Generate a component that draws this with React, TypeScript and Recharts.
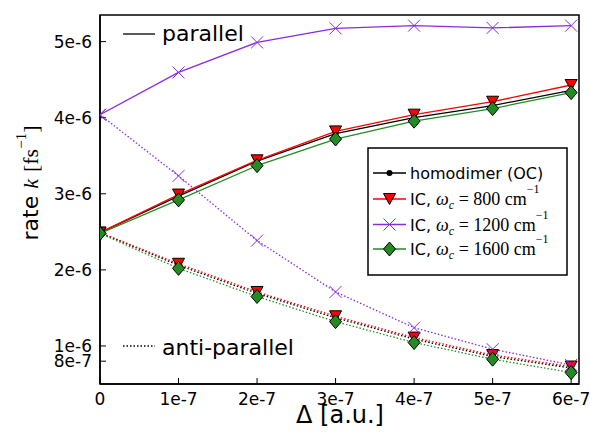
import { LineChart, Line, XAxis, YAxis, ReferenceArea, Legend } from 'recharts';

const X_VALUES = [0, 1e-7, 2e-7, 3e-7, 4e-7, 5e-7, 6e-7];
const X_TICK_LABELS = ['0', '1e-7', '2e-7', '3e-7', '4e-7', '5e-7', '6e-7'];
const Y_TICKS = [8e-7, 1e-6, 2e-6, 3e-6, 4e-6, 5e-6];
const Y_TICK_LABELS = ['8e-7', '1e-6', '2e-6', '3e-6', '4e-6', '5e-6'];
const X_DOMAIN = [0, 6.1e-7];
const Y_DOMAIN = [0.5e-6, 5.35e-6];

// parallel orientation (solid)
const HOMO_PAR = [2.49e-6, 2.97e-6, 3.43e-6, 3.79e-6, 4.0e-6, 4.16e-6, 4.36e-6];
const IC800_PAR = [2.49e-6, 2.99e-6, 3.44e-6, 3.82e-6, 4.04e-6, 4.21e-6, 4.43e-6];
const IC1200_PAR = [4.04e-6, 4.595e-6, 4.99e-6, 5.175e-6, 5.21e-6, 5.18e-6, 5.21e-6];
const IC1600_PAR = [2.48e-6, 2.92e-6, 3.37e-6, 3.72e-6, 3.955e-6, 4.12e-6, 4.33e-6];

// anti-parallel orientation (dotted)
const HOMO_ANTI = [2.49e-6, 2.06e-6, 1.69e-6, 1.37e-6, 1.09e-6, 0.86e-6, 0.71e-6];
const IC800_ANTI = [2.49e-6, 2.08e-6, 1.71e-6, 1.39e-6, 1.11e-6, 0.88e-6, 0.73e-6];
const IC1200_ANTI = [4.04e-6, 3.235e-6, 2.385e-6, 1.71e-6, 1.24e-6, 0.957e-6, 0.75e-6];
const IC1600_ANTI = [2.48e-6, 2.02e-6, 1.65e-6, 1.32e-6, 1.045e-6, 0.826e-6, 0.65e-6];

const SERIES = [
  { key: 'homo', color: '#000000', marker: 'circle', wc: '', par: HOMO_PAR, anti: HOMO_ANTI },
  { key: 'ic800', color: '#ff0000', marker: 'triangle', wc: '800', par: IC800_PAR, anti: IC800_ANTI },
  { key: 'ic1200', color: '#8a2be2', marker: 'x', wc: '1200', par: IC1200_PAR, anti: IC1200_ANTI },
  { key: 'ic1600', color: '#228b22', marker: 'diamond', wc: '1600', par: IC1600_PAR, anti: IC1600_ANTI },
];

const rows = X_VALUES.map((x, i) => {
  const row: Record<string, number> = { x };
  SERIES.forEach((s) => {
    row[s.key + 'Par'] = s.par[i];
    row[s.key + 'Anti'] = s.anti[i];
  });
  return row;
});

const SANS = 'DejaVu Sans, sans-serif';
const SERIF = 'Liberation Serif, serif';

const Marker = ({ type, color, cx, cy }: { type: string; color: string; cx: number; cy: number }) => {
  if (type === 'circle') return <circle cx={cx} cy={cy} r={3} fill={color} />;
  if (type === 'triangle')
    return (
      <polygon
        points={`${cx - 6},${cy - 5.5} ${cx + 6},${cy - 5.5} ${cx},${cy + 5.5}`}
        fill={color}
        stroke="#000"
        strokeWidth={1}
      />
    );
  if (type === 'diamond')
    return (
      <polygon
        points={`${cx},${cy - 7} ${cx + 6},${cy} ${cx},${cy + 7} ${cx - 6},${cy}`}
        fill={color}
        stroke="#000"
        strokeWidth={1}
      />
    );
  return (
    <path
      d={`M${cx - 6},${cy - 6}L${cx + 6},${cy + 6}M${cx - 6},${cy + 6}L${cx + 6},${cy - 6}`}
      stroke={color}
      strokeWidth={1}
      fill="none"
    />
  );
};

const makeDot = (type: string, color: string) => (props: any) => {
  const { cx, cy, index } = props;
  if (cx == null || cy == null) return <g key={index} />;
  return (
    <g key={index}>
      <Marker type={type} color={color} cx={cx} cy={cy} />
    </g>
  );
};

const ROW_Y = [173, 199, 224.5, 249];

const Overlay = () => (
  <svg width={590} height={437} style={{ position: 'absolute', left: 0, top: 0 }}>
    <line x1={123} x2={155} y1={34} y2={34} stroke="#000" strokeWidth={1.3} />
    <text x={162} y={41} fontFamily={SANS} fontSize={22}>parallel</text>
    <line x1={123} x2={155} y1={346} y2={346} stroke="#000" strokeWidth={1.3} strokeDasharray="1.5 2" />
    <text x={162} y={355} fontFamily={SANS} fontSize={22}>anti-parallel</text>

    <rect x={368} y={148} width={199} height={127} fill="#fff" stroke="#000" strokeWidth={1.5} />
    {SERIES.map((s, i) => (
      <g key={s.key}>
        <line x1={373} x2={406} y1={ROW_Y[i]} y2={ROW_Y[i]} stroke={s.color} strokeWidth={1.3} />
        <Marker type={s.marker} color={s.color} cx={389.5} cy={ROW_Y[i]} />
        {s.wc === '' ? (
          <text x={410} y={ROW_Y[i] + 6} fontFamily={SANS} fontSize={16}>homodimer (OC)</text>
        ) : (
          <text x={410} y={ROW_Y[i] + 6} fontFamily={SANS} fontSize={16}>
            IC,{' '}
            <tspan fontFamily={SERIF} fontStyle="italic" fontSize={18}>ω</tspan>
            <tspan fontFamily={SERIF} fontStyle="italic" fontSize={12} dy={4}>c</tspan>
            <tspan fontFamily={SERIF} fontSize={18} dy={-4}>{` = ${s.wc} cm`}</tspan>
            <tspan fontFamily={SERIF} fontSize={12} dy={-12}>−1</tspan>
          </text>
        )}
      </g>
    ))}
  </svg>
);

const YLabel = () => (
  <text
    x={38}
    y={183}
    transform="rotate(-90, 38, 183)"
    textAnchor="middle"
    fontFamily={SANS}
    fontSize={22}
    fill="#000"
  >
    rate <tspan fontFamily={SERIF} fontStyle="italic">k</tspan>{' '}
    <tspan fontFamily={SERIF}>[fs</tspan>
    <tspan fontFamily={SERIF} fontSize={15} dy={-12}>−1</tspan>
    <tspan fontFamily={SERIF} dy={12}>]</tspan>
  </text>
);

const XLabel = () => (
  <text x={340} y={423} textAnchor="middle" fontFamily={SANS} fontSize={24} fill="#000">
    Δ [a.u.]
  </text>
);

const tickStyle = { fontFamily: SANS, fontSize: 17, fill: '#000' };

export default function App() {
  return (
    <div style={{ position: 'absolute', left: 0, top: 0, width: 590, height: 437, background: '#fff' }}>
      <LineChart width={590} height={437} data={rows} margin={{ top: 15, right: 11, bottom: 0, left: 0 }}>
        <XAxis
          dataKey="x"
          type="number"
          domain={X_DOMAIN}
          ticks={X_VALUES}
          interval={0}
          tickFormatter={(_v: number, i: number) => X_TICK_LABELS[i]}
          height={53}
          tickSize={-6}
          tickMargin={15}
          tick={tickStyle}
          axisLine={{ stroke: '#000', strokeWidth: 1.5 }}
          tickLine={{ stroke: '#000', strokeWidth: 1 }}
          allowDataOverflow
          label={{ content: () => <XLabel /> }}
        />
        <YAxis
          type="number"
          domain={Y_DOMAIN}
          ticks={Y_TICKS}
          interval={0}
          tickFormatter={(_v: number, i: number) => Y_TICK_LABELS[i]}
          width={100}
          tickSize={-6}
          tickMargin={14}
          tick={tickStyle}
          axisLine={{ stroke: '#000', strokeWidth: 1.5 }}
          tickLine={{ stroke: '#000', strokeWidth: 1 }}
          allowDataOverflow
          label={{ content: () => <YLabel /> }}
        />
        <ReferenceArea
          x1={X_DOMAIN[0]}
          x2={X_DOMAIN[1]}
          y1={Y_DOMAIN[0]}
          y2={Y_DOMAIN[1]}
          fill="none"
          stroke="#000"
          strokeWidth={1.5}
          fillOpacity={0}
        />
        {SERIES.flatMap((s) => [
          <Line
            key={s.key + 'Par'}
            dataKey={s.key + 'Par'}
            stroke={s.color}
            strokeWidth={1.3}
            type="linear"
            dot={makeDot(s.marker, s.color)}
            activeDot={false}
            isAnimationActive={false}
          />,
          <Line
            key={s.key + 'Anti'}
            dataKey={s.key + 'Anti'}
            stroke={s.color}
            strokeWidth={1.3}
            strokeDasharray="1.5 2"
            type="linear"
            dot={makeDot(s.marker, s.color)}
            activeDot={false}
            isAnimationActive={false}
          />,
        ])}
        <Legend
          layout="vertical"
          align="center"
          verticalAlign="middle"
          content={() => <Overlay />}
          wrapperStyle={{ position: 'absolute', left: 0, top: 0, width: 590, height: 437, pointerEvents: 'none' }}
        />
      </LineChart>
    </div>
  );
}
